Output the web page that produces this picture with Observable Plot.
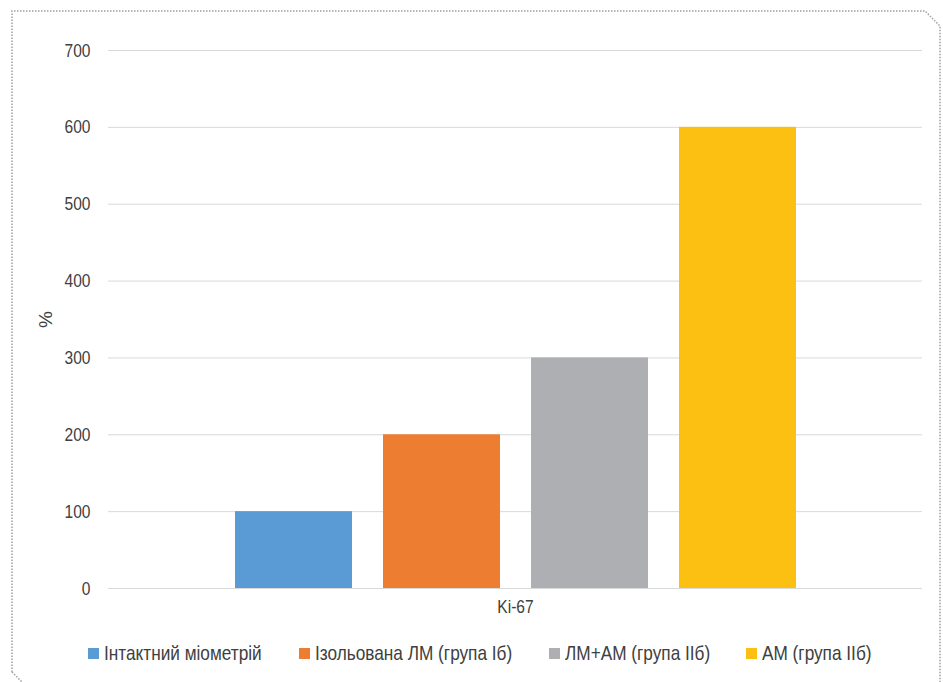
<!DOCTYPE html>
<html>
<head>
<meta charset="utf-8">
<script src="https://cdn.jsdelivr.net/npm/d3@7"></script>
<script src="https://cdn.jsdelivr.net/npm/@observablehq/plot@0.6"></script>
<style>
  html, body { margin: 0; padding: 0; background: #fff; }
  body { width: 943px; height: 682px; position: relative; overflow: hidden;
         font-family: "Liberation Sans", Arial, sans-serif; }
  #frame { position: absolute; left: 0; top: 0; pointer-events: none; }
  #chart { position: absolute; left: 0; top: 0; }
  #legend { position: absolute; left: 0; top: 0; width: 943px; height: 682px; font-size: 21px; color: #404040; }
  .sw { position: absolute; top: 648px; width: 11px; height: 11px; }
  .lt { position: absolute; top: 640px; white-space: nowrap; display: inline-block;
        transform: scaleX(0.82); transform-origin: 0 50%; line-height: 26px; }
</style>
</head>
<body>
<svg id="frame" width="943" height="682">
  <polyline points="12,672 12,11 925,11 940,26 940,682" fill="none" stroke="#a0a0a0" stroke-width="1.5" stroke-dasharray="1.5 1.5"/>
  <line x1="12" y1="672" x2="22" y2="682" stroke="#a0a0a0" stroke-width="1.5" stroke-dasharray="1.5 1.5"/>
</svg>
<div id="chart"></div>
<div id="legend"></div>
<script>
const category = "Ki-67";
const series = ["Інтактний міометрій", "Ізольована ЛМ (група Іб)", "ЛМ+АМ (група ІІб)", "АМ (група ІІб)"];
const values = [100, 200, 300, 600];
const colors = ["#5B9BD5", "#ED7D31", "#AEAFB3", "#FBC012"];
const yTicks = [0, 100, 200, 300, 400, 500, 600, 700];
const legendLeft = [88, 299, 549, 746];

const data = series.map((s, i) => ({category, series: s, value: values[i]}));

const chart = Plot.plot({
  width: 943,
  height: 625,
  marginTop: 50,
  marginBottom: 37,
  marginLeft: 108,
  marginRight: 21,
  style: {fontSize: "19px", fontFamily: '"Liberation Sans", Arial, sans-serif', color: "#404040", background: "transparent"},
  fx: {padding: 0, label: null},
  x: {domain: series, paddingInner: 0.21, paddingOuter: 0.85, axis: null},
  y: {domain: [0, 700], ticks: yTicks, label: "%"},
  color: {domain: series, range: colors},
  marks: [
    Plot.gridY(yTicks, {stroke: "#d9d9d9", strokeOpacity: 1, strokeWidth: 1}),
    Plot.barY(data, {fx: "category", x: "series", y: "value", fill: "series"}),
    Plot.axisY(yTicks, {tickSize: 0, tickPadding: 18, label: "%", labelAnchor: "center", labelArrow: "none", labelOffset: 70, fill: "#404040"}),
    Plot.axisFx({anchor: "bottom", tickSize: 0, tickPadding: 11, label: null, fill: "#404040"})
  ]
});
document.getElementById("chart").appendChild(chart);

// condense tick label glyphs (narrow font look) around their anchor
function squeeze(sel, anchor) {
  chart.querySelectorAll(sel).forEach(t => {
    const b = t.getBBox();
    const ox = anchor === "end" ? b.x + b.width : b.x + b.width / 2;
    const tr = t.getAttribute("transform") || "";
    t.setAttribute("transform", `${tr} translate(${ox},0) scale(0.82,1) translate(${-ox},0)`);
  });
}
squeeze('g[aria-label="y-axis tick label"] text', "end");
squeeze('g[aria-label="fx-axis tick label"] text', "middle");

const legend = document.getElementById("legend");
series.forEach((s, i) => {
  const sw = document.createElement("div");
  sw.className = "sw";
  sw.style.left = legendLeft[i] + "px";
  sw.style.background = colors[i];
  const t = document.createElement("span");
  t.className = "lt";
  t.style.left = (legendLeft[i] + 16) + "px";
  t.textContent = s;
  legend.appendChild(sw); legend.appendChild(t);
});
</script>
</body>
</html>
